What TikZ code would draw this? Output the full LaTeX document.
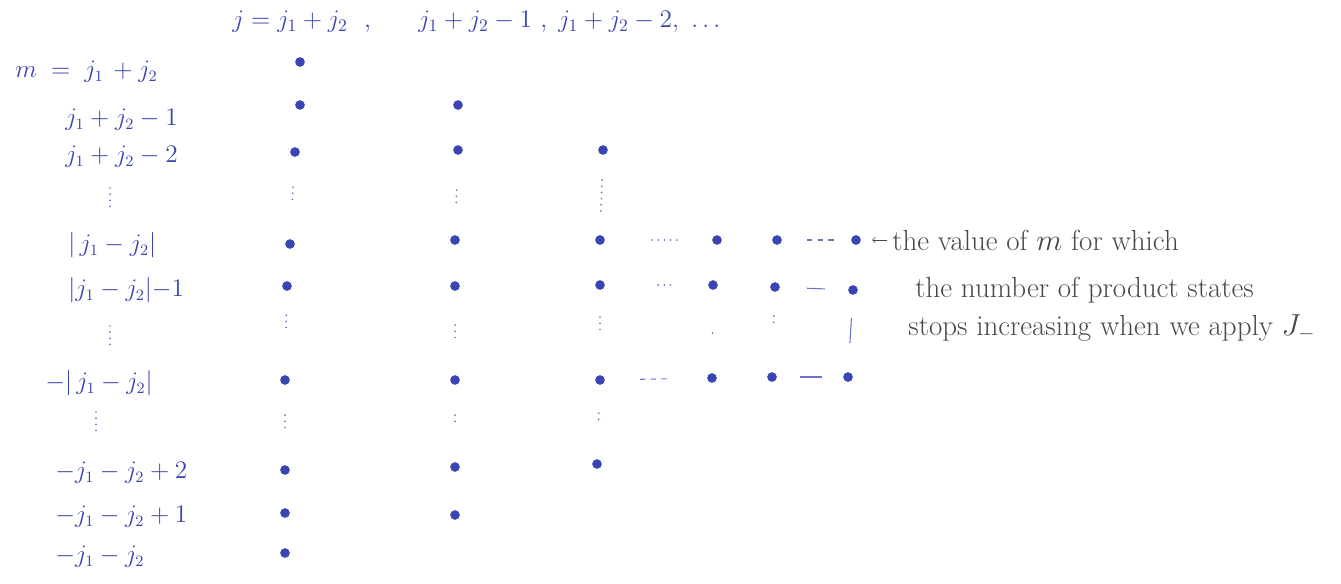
\documentclass[tikz,border=0pt]{standalone}
\usepackage{amsmath}
\definecolor{ink}{RGB}{58,68,178}
\definecolor{pencil}{RGB}{72,72,72}
\begin{document}
\begin{tikzpicture}[
	x=0.02cm, y=-0.02cm,
	prod/.style = {circle, fill=ink, inner sep=0pt, minimum size=5.5pt},
	lbl/.style = {anchor=west, inner sep=0pt, text=ink, font=\fontsize{13.5}{16}\selectfont},
	note/.style = {anchor=west, inner sep=0pt, text=pencil, font=\fontsize{16.5}{19}\selectfont},
	gap/.style = {ink!75, line width=1.1pt, dash pattern=on 0pt off 3.5pt, line cap=round},
	bar/.style = {ink!75, semithick}
	]
	\useasboundingbox (0,0) rectangle (1341,583);

	%Header
	\node[lbl, font=\Large]	(h1)	at	(232, 22)	{$j = j_1+j_2$\ \ ,};
	\node[lbl, font=\Large]	(h2)	at	(418, 22)	{$j_1+j_2-1$\ ,};
	\node[lbl, font=\Large]	(h3)	at	(558, 22)	{$j_1+j_2-2,\ \ldots$};

	%Labels
	\node[lbl]	(l1)	at	(15, 72)	{$m \;=\; j_1\, + j_2$};
	\node[lbl]	(l2)	at	(65, 120)	{$j_1+j_2-1$};
	\node[lbl]	(l3)	at	(65, 157)	{$j_1+j_2-2$};
	\node[lbl]	(l4)	at	(68, 245)	{$|\,j_1-j_2|$};
	\node[lbl]	(l5)	at	(68, 290)	{$|j_1-j_2|{-}1$};
	\node[lbl]	(l6)	at	(45, 383)	{$-|\,j_1-j_2|$};
	\node[lbl]	(l7)	at	(55, 473)	{$-j_1-j_2+2$};
	\node[lbl]	(l8)	at	(55, 517)	{$-j_1-j_2+1$};
	\node[lbl]	(l9)	at	(55, 557)	{$-j_1-j_2$};

	\coordinate	(lv1a)	at	(110, 188);
	\coordinate	(lv1b)	at	(110, 210);
	\coordinate	(lv2a)	at	(110, 326);
	\coordinate	(lv2b)	at	(110, 348);
	\coordinate	(lv3a)	at	(96, 412);
	\coordinate	(lv3b)	at	(96, 436);

	%States
	\node[prod]	(a1)	at	(300, 62)	{};
	\node[prod]	(a2)	at	(300, 105)	{};
	\node[prod]	(a3)	at	(295, 152)	{};
	\node[prod]	(a4)	at	(290, 244)	{};
	\node[prod]	(a5)	at	(287, 286)	{};
	\node[prod]	(a6)	at	(285, 380)	{};
	\node[prod]	(a7)	at	(285, 470)	{};
	\node[prod]	(a8)	at	(285, 513)	{};
	\node[prod]	(a9)	at	(285, 553)	{};

	\node[prod]	(b2)	at	(458, 105)	{};
	\node[prod]	(b3)	at	(458, 150)	{};
	\node[prod]	(b4)	at	(455, 240)	{};
	\node[prod]	(b5)	at	(455, 286)	{};
	\node[prod]	(b6)	at	(455, 380)	{};
	\node[prod]	(b7)	at	(455, 467)	{};
	\node[prod]	(b8)	at	(455, 515)	{};

	\node[prod]	(c3)	at	(603, 150)	{};
	\node[prod]	(c4)	at	(600, 240)	{};
	\node[prod]	(c5)	at	(600, 285)	{};
	\node[prod]	(c6)	at	(600, 380)	{};
	\node[prod]	(c7)	at	(597, 464)	{};

	\node[prod]	(d4)	at	(717, 240)	{};
	\node[prod]	(d5)	at	(713, 285)	{};
	\node[prod]	(d6)	at	(712, 378)	{};

	\node[prod]	(e4)	at	(777, 240)	{};
	\node[prod]	(e5)	at	(775, 287)	{};
	\node[prod]	(e6)	at	(772, 377)	{};

	\node[prod]	(f4)	at	(856, 240)	{};
	\node[prod]	(f5)	at	(853, 290)	{};
	\node[prod]	(f6)	at	(848, 377)	{};

	%Note
	\node[note]	(n1)	at	(892, 240)	{the value of $m$ for which};
	\node[note]	(n2)	at	(915, 290)	{the number of product states};
	\node[note]	(n3)	at	(908, 328)	{stops increasing when we apply $J_-$};

	%Lines
	\draw[gap]	(lv1a)	--	(lv1b);
	\draw[gap]	(lv2a)	--	(lv2b);
	\draw[gap]	(lv3a)	--	(lv3b);

	\draw[gap, shorten <=0.6cm, shorten >=0.78cm]	(a3)	--	(a4);
	\draw[gap, shorten <=0.48cm, shorten >=0.84cm]	(a5)	--	(a6);
	\draw[gap, shorten <=0.6cm, shorten >=0.74cm]	(a6)	--	(a7);
	\draw[gap, shorten <=0.7cm, shorten >=0.6cm]	(b3)	--	(b4);
	\draw[gap, shorten <=0.68cm, shorten >=0.66cm]	(b5)	--	(b6);
	\draw[gap, shorten <=0.6cm, shorten >=0.74cm]	(b6)	--	(b7);
	\draw[gap, shorten <=0.5cm, shorten >=0.46cm]	(c3)	--	(c4);
	\draw[gap, shorten <=0.54cm, shorten >=0.84cm]	(c5)	--	(c6);
	\draw[gap, shorten <=0.56cm, shorten >=0.72cm]	(c6)	--	(c7);
	\draw[gap, shorten <=0.86cm, shorten >=0.76cm]	(d5)	--	(d6);
	\draw[gap, shorten <=0.48cm, shorten >=0.94cm]	(e5)	--	(e6);
	\draw[bar, shorten <=0.46cm, shorten >=0.58cm]	(f5)	--	(f6);

	\draw[gap, shorten <=0.94cm, shorten >=0.7cm]	(c4)	--	(d4);
	\draw[gap, shorten <=1.06cm, shorten >=0.66cm]	(c5)	--	(d5);
	\draw[bar, dashed, shorten <=0.7cm, shorten >=0.8cm]	(c6)	--	(d6);
	\draw[bar, dashed, shorten <=0.5cm, shorten >=0.28cm]	(e4)	--	(f4);
	\draw[bar, shorten <=0.54cm, shorten >=0.46cm]	(e5)	--	(f5);
	\draw[bar, shorten <=0.46cm, shorten >=0.42cm]	(e6)	--	(f6);

	\draw[->, pencil, thin, shorten <=0.1cm, shorten >=0.22cm]	(n1.west)	--	(f4);
\end{tikzpicture}
\end{document}
